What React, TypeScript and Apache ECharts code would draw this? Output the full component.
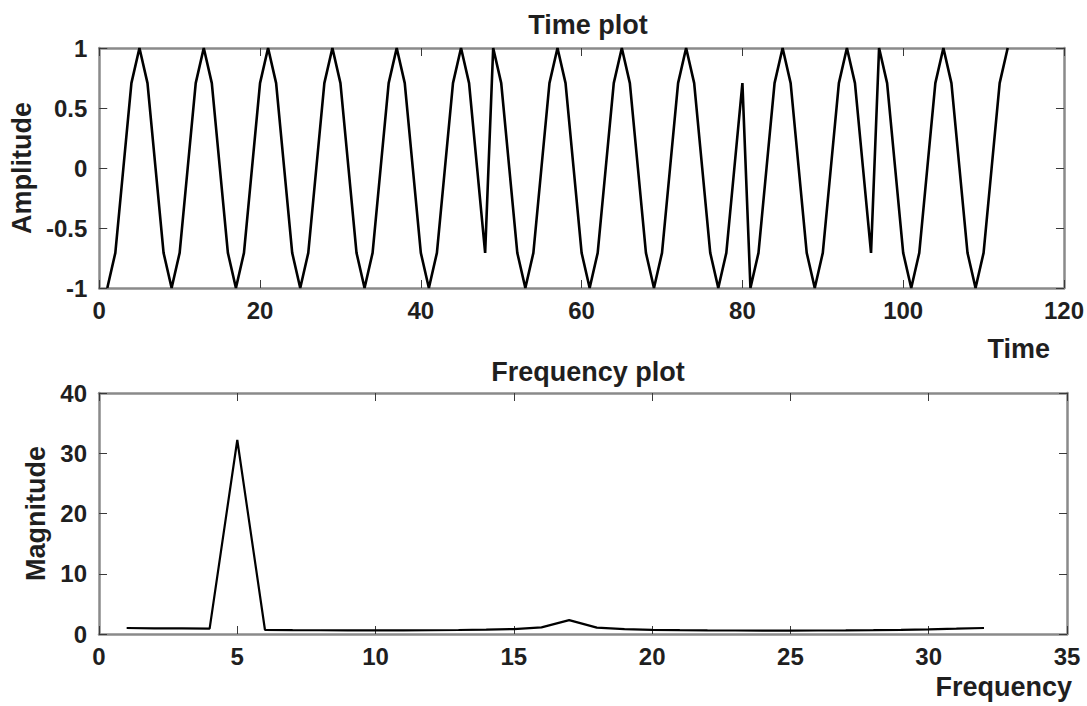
import React, { useEffect, useRef } from "react";
import * as echarts from "echarts";

// Time-domain samples (sample index 1..113), one row per 8-sample period.
const amplitude: number[] = [
  -1, -0.707, 0, 0.707, 1, 0.707, 0, -0.707,
  -1, -0.707, 0, 0.707, 1, 0.707, 0, -0.707,
  -1, -0.707, 0, 0.707, 1, 0.707, 0, -0.707,
  -1, -0.707, 0, 0.707, 1, 0.707, 0, -0.707,
  -1, -0.707, 0, 0.707, 1, 0.707, 0, -0.707,
  -1, -0.707, 0, 0.707, 1, 0.707, 0, -0.707,
  1, 0.707, 0, -0.707, -1, -0.707, 0, 0.707,
  1, 0.707, 0, -0.707, -1, -0.707, 0, 0.707,
  1, 0.707, 0, -0.707, -1, -0.707, 0, 0.707,
  1, 0.707, 0, -0.707, -1, -0.707, 0, 0.707,
  -1, -0.707, 0, 0.707, 1, 0.707, 0, -0.707,
  -1, -0.707, 0, 0.707, 1, 0.707, 0, -0.707,
  1, 0.707, 0, -0.707, -1, -0.707, 0, 0.707,
  1, 0.707, 0, -0.707, -1, -0.707, 0, 0.707,
  1,
];
const timeIndex: number[] = amplitude.map((_, i) => i + 1);

// Spectrum magnitude for frequency bins 1..32.
const frequency: number[] = [
  1, 2, 3, 4, 5, 6, 7, 8, 9, 10, 11, 12, 13, 14, 15, 16,
  17, 18, 19, 20, 21, 22, 23, 24, 25, 26, 27, 28, 29, 30, 31, 32,
];
const magnitude: number[] = [
  1.0, 0.95, 0.92, 0.88, 32.2, 0.7, 0.65, 0.62, 0.6, 0.6, 0.6, 0.62, 0.66, 0.72, 0.82, 1.1,
  2.3, 1.05, 0.8, 0.7, 0.64, 0.6, 0.58, 0.57, 0.57, 0.58, 0.6, 0.64, 0.7, 0.78, 0.88, 1.0,
];

const timeTicks = { min: 0, max: 120, interval: 20 };
const ampTicks = { min: -1, max: 1, interval: 0.5 };
const freqTicks = { min: 0, max: 35, interval: 5 };
const magTicks = { min: 0, max: 40, interval: 10 };

const FONT = "'Liberation Sans', Arial, Helvetica, sans-serif";
const TEXT = "#1f1f1f";
const BOX = "#8a8a8a";

const tickStyle = { inside: true, length: 8, lineStyle: { color: "#3a3a3a", width: 1 } };
const lineStyle = { show: true, onZero: false, lineStyle: { color: BOX, width: 2.5 } };
const labelStyle = { fontSize: 24, fontWeight: "bold" as const, color: TEXT, fontFamily: FONT };
const nameStyle = { fontSize: 27, fontWeight: "bold" as const, color: TEXT, fontFamily: FONT };

export default function App() {
  const ref = useRef<HTMLDivElement>(null);

  useEffect(() => {
    if (!ref.current) return;
    const chart = echarts.init(ref.current, undefined, { renderer: "svg" });

    const mirrorX = (gridIndex: number, t: { min: number; max: number; interval: number }) => ({
      type: "value",
      gridIndex,
      position: "top",
      ...t,
      axisLine: lineStyle,
      axisTick: tickStyle,
      axisLabel: { show: false },
      splitLine: { show: false },
    });
    const mirrorY = (gridIndex: number, t: { min: number; max: number; interval: number }) => ({
      type: "value",
      gridIndex,
      position: "right",
      ...t,
      axisLine: lineStyle,
      axisTick: tickStyle,
      axisLabel: { show: false },
      splitLine: { show: false },
    });

    chart.setOption({
      animation: false,
      backgroundColor: "#ffffff",
      title: [
        {
          text: "Time plot",
          left: 583,
          top: 6,
          textAlign: "center",
          textStyle: nameStyle,
        },
        {
          text: "Frequency plot",
          left: 583,
          top: 353,
          textAlign: "center",
          textStyle: nameStyle,
        },
      ],
      grid: [
        { left: 99, top: 48, width: 968, height: 240 },
        { left: 99, top: 393, width: 968, height: 241 },
      ],
      xAxis: [
        {
          type: "value",
          gridIndex: 0,
          ...timeTicks,
          name: "Time",
          nameLocation: "end",
          nameGap: -14,
          nameTextStyle: { ...nameStyle, align: "right", verticalAlign: "top", padding: [47, 0, 0, 0] },
          axisLine: lineStyle,
          axisTick: tickStyle,
          axisLabel: { ...labelStyle, margin: 10 },
          splitLine: { show: false },
        },
        mirrorX(0, timeTicks),
        {
          type: "value",
          gridIndex: 1,
          ...freqTicks,
          name: "Frequency",
          nameLocation: "end",
          nameGap: 5,
          nameTextStyle: { ...nameStyle, align: "right", verticalAlign: "top", padding: [39, 0, 0, 0] },
          axisLine: lineStyle,
          axisTick: tickStyle,
          axisLabel: { ...labelStyle, margin: 10 },
          splitLine: { show: false },
        },
        mirrorX(1, freqTicks),
      ],
      yAxis: [
        {
          type: "value",
          gridIndex: 0,
          ...ampTicks,
          name: "Amplitude",
          nameLocation: "middle",
          nameGap: 64,
          nameTextStyle: nameStyle,
          axisLine: lineStyle,
          axisTick: tickStyle,
          axisLabel: { ...labelStyle, margin: 12 },
          splitLine: { show: false },
        },
        mirrorY(0, ampTicks),
        {
          type: "value",
          gridIndex: 1,
          ...magTicks,
          name: "Magnitude",
          nameLocation: "middle",
          nameGap: 47,
          nameTextStyle: nameStyle,
          axisLine: lineStyle,
          axisTick: tickStyle,
          axisLabel: { ...labelStyle, margin: 12 },
          splitLine: { show: false },
        },
        mirrorY(1, magTicks),
      ],
      series: [
        {
          type: "line",
          xAxisIndex: 0,
          yAxisIndex: 0,
          data: timeIndex.map((t, i) => [t, amplitude[i]]),
          showSymbol: false,
          clip: false,
          lineStyle: { color: "#000000", width: 2.6 },
        },
        {
          type: "line",
          xAxisIndex: 2,
          yAxisIndex: 2,
          data: frequency.map((f, i) => [f, magnitude[i]]),
          showSymbol: false,
          clip: false,
          lineStyle: { color: "#000000", width: 2.2 },
        },
      ],
    });

    return () => chart.dispose();
  }, []);

  return (
    <div
      ref={ref}
      style={{ position: "fixed", left: 0, top: 0, width: 1087, height: 706, background: "#fff" }}
    />
  );
}
